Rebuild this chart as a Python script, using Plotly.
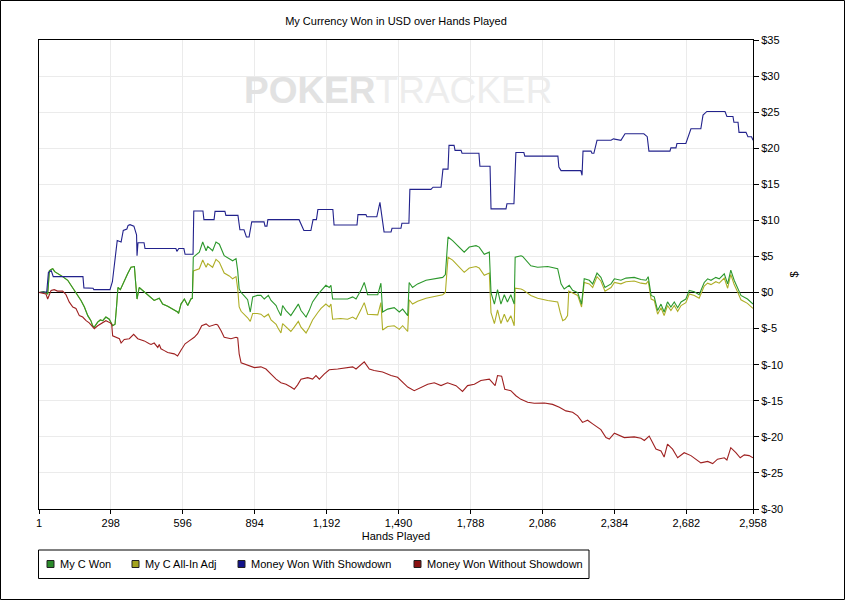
import plotly.graph_objects as go

# ── Axis ticks ──────────────────────────────────────────────────
hand_ticks = [1, 298, 596, 894, 1192, 1490, 1788, 2086, 2384, 2682, 2958]
hand_tick_labels = ["1", "298", "596", "894", "1,192", "1,490", "1,788",
                    "2,086", "2,384", "2,682", "2,958"]
usd_ticks = [35, 30, 25, 20, 15, 10, 5, 0, -5, -10, -15, -20, -25, -30]
usd_tick_labels = ["$35", "$30", "$25", "$20", "$15", "$10", "$5", "$0",
                   "$-5", "$-10", "$-15", "$-20", "$-25", "$-30"]

# ── Series ──────────────────────────────────────────────────────
green_hands = [1, 20, 37, 44, 51, 58, 66, 78, 99, 120, 130, 141, 154, 175, 189, 203, 216, 223, 230, 244,
               255, 265, 278, 292, 306, 316, 322, 328, 338, 348, 368, 382, 396, 401, 403, 407, 416, 430, 444, 465,
               478, 499, 513, 534, 555, 575, 579, 589, 603, 617, 630, 636, 640, 665, 679, 693, 700, 720, 734, 748,
               768, 789, 803, 817, 824, 830, 838, 852, 865, 876, 886, 905, 920, 934, 951, 962, 983, 989, 1003, 1010,
               1024, 1044, 1058, 1075, 1086, 1107, 1120, 1134, 1155, 1169, 1189, 1203, 1210, 1217, 1250, 1279, 1300, 1314, 1334, 1348,
               1362, 1404, 1417, 1424, 1445, 1472, 1493, 1507, 1528, 1534, 1548, 1569, 1604, 1638, 1673, 1684, 1695, 1714, 1735, 1762,
               1783, 1811, 1824, 1845, 1866, 1873, 1887, 1900, 1914, 1928, 1941, 1955, 1969, 1973, 1997, 2004, 2038, 2066, 2108, 2149,
               2163, 2176, 2197, 2211, 2232, 2248, 2259, 2280, 2294, 2312, 2328, 2345, 2370, 2384, 2411, 2432, 2466, 2494, 2515, 2524,
               2536, 2549, 2563, 2577, 2590, 2604, 2618, 2632, 2646, 2660, 2680, 2694, 2715, 2735, 2756, 2770, 2784, 2804, 2818, 2839,
               2853, 2866, 2880, 2894, 2908, 2935, 2958]
green_usd = [0.0, 0.1, -0.2, 3.0, 3.2, 3.3, 2.9, 2.6, 2.2, 1.7, 1.2, 0.7, 0.0, -1.1, -2.0, -3.2, -3.9, -4.6, -4.8, -4.1,
             -3.8, -3.9, -3.4, -3.7, -4.6, -4.4, -2.0, 0.7, 0.4, 1.2, 2.6, 3.5, 3.6, 1.5, 0.0, -0.9, 0.7, 0.3, 0.0, -0.6,
             -1.1, -0.8, -1.6, -1.9, -2.3, -2.7, -2.9, -1.6, -0.9, -1.8, -0.9, -0.8, 4.9, 5.6, 7.0, 5.8, 6.4, 5.8, 7.0, 6.7,
             5.1, 4.7, 4.4, 4.7, 3.0, 0.5, 0.0, -0.5, -1.0, -2.7, -0.6, -0.4, -0.4, -0.9, -0.4, -1.1, -1.8, -2.3, -3.2, -1.8,
             -2.5, -3.2, -2.5, -1.6, -2.5, -3.4, -2.5, -1.3, -0.3, 0.3, 1.0, 0.7, 1.0, -0.9, -0.9, -0.9, -0.6, -0.9, 0.3, 1.4,
             -0.3, -0.3, 1.3, -2.7, -2.3, -2.1, -2.7, -2.3, -3.2, 1.4, 0.7, 1.2, 1.7, 1.9, 2.1, 2.5, 7.7, 7.2, 6.5, 5.6,
             6.3, 6.5, 6.3, 5.3, 5.6, 0.0, -1.6, 0.4, -1.6, -0.3, -1.3, -0.3, -1.6, 4.9, 5.1, 5.0, 3.7, 3.5, 3.6, 3.3,
             1.2, 0.5, 1.0, 0.3, 0.0, -1.6, 1.9, 1.7, 1.2, 2.7, 2.1, 0.7, 1.2, 1.9, 1.7, 2.0, 2.1, 1.8, 1.7, 2.2,
             -0.4, -0.6, -2.5, -1.6, -2.7, -1.3, -2.0, -1.3, -2.1, -1.3, -0.9, 0.3, 0.1, -0.3, 1.4, 1.9, 1.7, 2.1, 1.9, 2.6,
             1.2, 3.1, 1.7, 0.7, -0.4, -0.9, -1.6]

allin_hands = [1, 20, 37, 44, 51, 58, 66, 78, 99, 120, 130, 141, 154, 175, 189, 203, 216, 223, 230, 244,
               255, 265, 278, 292, 306, 316, 322, 328, 338, 348, 368, 382, 396, 401, 403, 407, 416, 430, 444, 465,
               478, 499, 513, 534, 555, 575, 579, 589, 603, 617, 630, 636, 640, 665, 679, 693, 700, 720, 734, 748,
               768, 789, 803, 817, 824, 830, 838, 852, 865, 876, 886, 905, 920, 934, 951, 962, 983, 989, 1003, 1010,
               1024, 1044, 1058, 1075, 1086, 1107, 1120, 1134, 1155, 1169, 1189, 1203, 1210, 1217, 1250, 1279, 1300, 1314, 1334, 1348,
               1362, 1404, 1417, 1424, 1445, 1472, 1493, 1507, 1528, 1534, 1548, 1569, 1604, 1638, 1673, 1684, 1695, 1714, 1735, 1762,
               1783, 1811, 1824, 1845, 1866, 1873, 1887, 1900, 1914, 1928, 1941, 1955, 1969, 1973, 1997, 2004, 2038, 2066, 2108, 2149,
               2160, 2170, 2180, 2190, 2195, 2211, 2232, 2248, 2259, 2280, 2294, 2312, 2328, 2345, 2370, 2384, 2411, 2432, 2466, 2494,
               2515, 2524, 2536, 2549, 2563, 2577, 2590, 2604, 2618, 2632, 2646, 2660, 2680, 2694, 2715, 2735, 2756, 2770, 2784, 2804,
               2818, 2839, 2853, 2866, 2880, 2894, 2908, 2935, 2958]
allin_usd = [0.0, 0.1, -0.2, 3.0, 3.2, 3.3, 2.9, 2.6, 2.2, 1.7, 1.2, 0.7, 0.0, -1.1, -2.0, -3.2, -3.9, -4.6, -4.8, -4.1,
             -3.8, -3.9, -3.4, -3.7, -4.6, -4.4, -2.0, 0.7, 0.4, 1.2, 2.6, 3.5, 3.6, 1.5, 0.0, -0.9, 0.7, 0.3, 0.0, -0.6,
             -1.1, -0.8, -1.6, -1.9, -2.3, -2.7, -2.9, -1.6, -0.9, -1.8, -0.9, -0.8, 3.0, 3.3, 4.5, 3.5, 4.0, 3.5, 4.6, 4.2,
             2.7, 2.3, 1.9, 2.2, 0.5, -2.0, -2.6, -3.0, -3.5, -4.0, -2.9, -2.9, -3.0, -3.4, -3.0, -3.8, -4.4, -4.8, -5.6, -4.3,
             -4.8, -5.4, -4.8, -4.0, -4.8, -5.6, -4.8, -3.8, -2.8, -2.2, -1.6, -2.0, -1.6, -3.7, -3.6, -3.7, -3.4, -3.7, -2.4, -1.4,
             -3.0, -3.1, -1.4, -5.2, -4.7, -4.6, -5.1, -4.6, -5.4, -1.0, -1.6, -1.2, -0.8, -0.5, -0.3, 0.0, 4.9, 4.5, 3.7, 2.8,
             3.4, 3.6, 3.4, 2.4, 2.7, -2.8, -4.3, -2.4, -4.3, -3.0, -4.1, -3.2, -4.6, 0.6, 0.5, 0.4, -0.4, -0.8, -1.1, -1.3,
             -2.8, -3.9, -3.7, -3.2, 0.2, -0.1, -0.4, -2.0, 1.4, 1.2, 0.7, 2.2, 1.6, 0.2, 0.7, 1.4, 1.2, 1.5, 1.6, 1.3,
             1.2, 1.6, -0.9, -1.1, -3.0, -2.1, -3.2, -1.8, -2.5, -1.8, -2.6, -1.8, -1.4, -0.2, -0.4, -0.8, 0.9, 1.3, 1.1, 1.5,
             1.3, 2.0, 0.6, 2.5, 1.1, 0.1, -1.0, -1.5, -2.2]

showdown_hands = [1, 33, 40, 52, 60, 183, 187, 225, 228, 295, 305, 318, 325, 341, 350, 365, 370, 378, 394, 405,
                  407, 411, 436, 440, 568, 572, 580, 601, 606, 639, 642, 680, 684, 726, 730, 771, 775, 825, 833, 850,
                  860, 871, 882, 933, 937, 945, 949, 1078, 1098, 1127, 1136, 1150, 1156, 1218, 1223, 1318, 1322, 1355, 1359, 1400,
                  1413, 1430, 1459, 1463, 1500, 1504, 1533, 1537, 1624, 1633, 1666, 1674, 1695, 1699, 1720, 1724, 1749, 1753, 1823, 1827,
                  1869, 1873, 1935, 1939, 1968, 1976, 2009, 2013, 2150, 2154, 2163, 2245, 2250, 2254, 2287, 2291, 2299, 2312, 2370, 2380,
                  2411, 2428, 2506, 2520, 2527, 2614, 2618, 2639, 2643, 2680, 2690, 2701, 2742, 2751, 2767, 2842, 2850, 2875, 2879, 2896,
                  2900, 2929, 2937, 2952, 2958]
showdown_usd = [0.0, 0.1, 2.8, 3.0, 2.2, 2.2, 0.65, 0.6, 0.4, 0.4, 1.5, 5.0, 7.2, 7.0, 8.6, 8.8, 9.3, 9.4, 9.2, 8.0,
                5.1, 6.9, 6.9, 6.1, 6.1, 5.7, 6.1, 6.1, 5.3, 5.3, 11.3, 11.3, 10.1, 10.1, 11.25, 11.25, 10.7, 10.7, 8.7, 8.7,
                7.7, 7.7, 9.8, 9.8, 9.2, 9.2, 10.1, 10.1, 8.6, 8.6, 10.1, 10.1, 11.5, 11.5, 9.35, 9.35, 10.8, 10.8, 10.5, 10.5,
                12.5, 8.4, 8.4, 8.9, 8.9, 9.6, 9.6, 14.3, 14.3, 14.6, 14.6, 17.1, 17.1, 20.4, 20.4, 19.7, 19.7, 19.3, 19.3, 17.5,
                17.5, 11.6, 11.6, 12.3, 12.3, 19.4, 19.4, 18.9, 18.9, 17.4, 16.9, 16.9, 16.25, 19.6, 19.6, 19.3, 19.3, 21.1, 21.1, 21.3,
                21.1, 22.0, 22.0, 21.6, 19.6, 19.6, 20.05, 20.05, 20.65, 20.65, 21.6, 22.7, 22.7, 24.6, 25.1, 25.1, 24.4, 24.4, 23.6, 23.6,
                22.2, 22.2, 21.6, 21.6, 21.1]

no_showdown_hands = [1, 30, 37, 51, 64, 78, 99, 113, 126, 141, 154, 168, 182, 196, 209, 223, 230, 244, 265, 278,
                     296, 302, 306, 334, 341, 354, 375, 393, 410, 437, 458, 465, 478, 493, 499, 506, 520, 534, 561, 575,
                     589, 606, 623, 644, 658, 675, 693, 706, 734, 741, 755, 768, 796, 817, 824, 830, 838, 865, 893, 920,
                     941, 962, 983, 1003, 1024, 1044, 1058, 1072, 1086, 1114, 1134, 1148, 1162, 1182, 1203, 1238, 1272, 1300, 1314, 1348,
                     1369, 1389, 1424, 1459, 1486, 1507, 1528, 1555, 1583, 1611, 1638, 1666, 1693, 1728, 1755, 1776, 1804, 1831, 1866, 1890,
                     1900, 1917, 1930, 1955, 1976, 1997, 2025, 2052, 2094, 2128, 2156, 2183, 2211, 2232, 2252, 2273, 2294, 2314, 2328, 2349,
                     2363, 2384, 2404, 2425, 2466, 2494, 2508, 2528, 2542, 2556, 2577, 2590, 2604, 2625, 2646, 2673, 2701, 2722, 2742, 2770,
                     2791, 2811, 2839, 2850, 2866, 2887, 2905, 2922, 2942, 2958]
no_showdown_usd = [0.0, -0.2, -0.9, 0.3, 0.4, 0.2, 0.2, -0.3, -1.3, -2.0, -2.2, -3.2, -3.4, -3.9, -4.2, -4.8, -5.0, -4.6, -4.1, -3.9,
                   -4.2, -4.4, -6.0, -6.4, -7.0, -6.5, -6.4, -5.8, -6.4, -6.7, -7.1, -7.2, -7.0, -7.6, -7.2, -7.8, -8.05, -8.3, -8.5, -8.8,
                   -8.0, -7.1, -6.7, -6.2, -5.7, -4.6, -4.35, -4.7, -4.4, -4.5, -5.3, -6.2, -6.4, -6.2, -6.3, -8.5, -9.75, -10.1, -10.4, -10.3,
                   -10.6, -11.3, -12.0, -12.5, -12.7, -13.1, -13.4, -12.8, -12.0, -11.8, -12.0, -11.5, -12.0, -11.3, -10.7, -10.6, -10.4, -10.3, -10.6, -9.6,
                   -10.6, -10.8, -11.0, -11.5, -11.75, -12.5, -13.1, -13.6, -13.1, -12.7, -12.5, -12.9, -12.5, -12.9, -13.7, -12.9, -12.7, -12.2, -12.0, -12.9,
                   -11.5, -11.6, -13.4, -13.6, -14.3, -14.8, -15.2, -15.35, -15.3, -15.5, -15.9, -16.4, -16.6, -17.1, -18.0, -17.7, -18.2, -18.7, -19.0, -20.1,
                   -20.3, -19.5, -19.8, -20.1, -20.0, -20.2, -20.5, -19.9, -20.8, -21.7, -21.95, -22.8, -21.0, -21.7, -22.9, -22.2, -22.6, -23.1, -23.6, -23.4,
                   -23.7, -23.1, -22.9, -23.2, -21.5, -22.2, -22.9, -22.5, -22.6, -22.9]

# ── Plot-area geometry (pixels) ─────────────────────────────────
W, H = 845, 600
L, R, T, B = 39, 753, 40, 509


def px_x(px):
    return (px - L) / (R - L)


def px_y(py):
    return (B - py) / (B - T)


FONT = "Liberation Sans, Arial, sans-serif"

series = [
    ("My C All-In Adj", allin_hands, allin_usd, "#AEAE26"),
    ("My C Won", green_hands, green_usd, "#2C982C"),
    ("Money Won With Showdown", showdown_hands, showdown_usd, "#22228C"),
    ("Money Won Without Showdown", no_showdown_hands, no_showdown_usd, "#9E2020"),
]

fig = go.Figure()
for name, xs, ys, color in series:
    fig.add_trace(go.Scatter(x=xs, y=ys, name=name, mode="lines",
                             line=dict(color=color, width=1.1), showlegend=False))

# ── Hand-drawn legend box (square swatches like the original) ──
legend_items = [
    ("My C Won", "#2A8A2A", 47),
    ("My C All-In Adj", "#A3A31E", 132),
    ("Money Won With Showdown", "#12128A", 238),
    ("Money Won Without Showdown", "#8A1212", 414),
]
shapes = [
    # outer image frame
    dict(type="rect", xref="paper", yref="paper",
         x0=px_x(0.5), x1=px_x(844.5), y0=px_y(599.5), y1=px_y(0.5),
         line=dict(color="black", width=1)),
    # legend frame
    dict(type="rect", xref="paper", yref="paper",
         x0=px_x(38.5), x1=px_x(589), y0=px_y(578.5), y1=px_y(550),
         line=dict(color="black", width=1), fillcolor="white"),
]
annotations = []
for label, col, sx in legend_items:
    shapes.append(dict(type="rect", xref="paper", yref="paper",
                       x0=px_x(sx), x1=px_x(sx + 7), y0=px_y(567.5), y1=px_y(560.5),
                       line=dict(color="#202020", width=1), fillcolor=col))
    annotations.append(dict(text=label, xref="paper", yref="paper",
                            x=px_x(sx + 10.5), y=px_y(564), xanchor="left", yanchor="middle",
                            showarrow=False, font=dict(family=FONT, size=11, color="black")))

# watermark
annotations.append(dict(
    text='<span style="color:#e2e2e2"><b>POKER</b></span><span style="color:#ededed">TRACKER</span>',
    xref="paper", yref="paper", x=px_x(398), y=px_y(90), xanchor="center", yanchor="middle",
    showarrow=False, font=dict(family=FONT, size=37)))

fig.update_layout(
    width=W, height=H, autosize=False,
    margin=dict(l=L, r=W - R, t=T, b=H - B),
    paper_bgcolor="white", plot_bgcolor="white",
    font=dict(family=FONT, size=11, color="black"),
    title=dict(text="My Currency Won in USD over Hands Played", x=0.5, xref="paper",
               xanchor="center", y=1 - 21.5 / H, yanchor="middle",
               font=dict(family=FONT, size=11, color="black")),
    shapes=shapes,
    annotations=annotations,
    showlegend=False,
)

fig.update_xaxes(
    range=[1, 2958], tickvals=hand_ticks, ticktext=hand_tick_labels,
    ticks="outside", ticklen=4, tickcolor="black",
    showline=True, linecolor="black", linewidth=1, mirror=True,
    showgrid=True, gridcolor="#ebebeb", gridwidth=1, zeroline=False,
    tickfont=dict(family=FONT, size=11, color="black"),
    title=dict(text="Hands Played", standoff=4, font=dict(family=FONT, size=11, color="black")),
)
fig.update_yaxes(
    side="right", range=[-30, 35], tickvals=usd_ticks, ticktext=usd_tick_labels,
    ticks="outside", ticklen=5, tickcolor="black",
    showline=True, linecolor="black", linewidth=1, mirror=True,
    showgrid=True, gridcolor="#ebebeb", gridwidth=1,
    zeroline=True, zerolinecolor="black", zerolinewidth=1,
    tickfont=dict(family=FONT, size=11, color="black"),
    title=dict(text="$", standoff=8, font=dict(family=FONT, size=11, color="black")),
)

# page margin off so the figure sits at the window's top-left corner
fig.write_html("out.html", config={"displayModeBar": False},
               post_script="document.body.style.margin='0';")
